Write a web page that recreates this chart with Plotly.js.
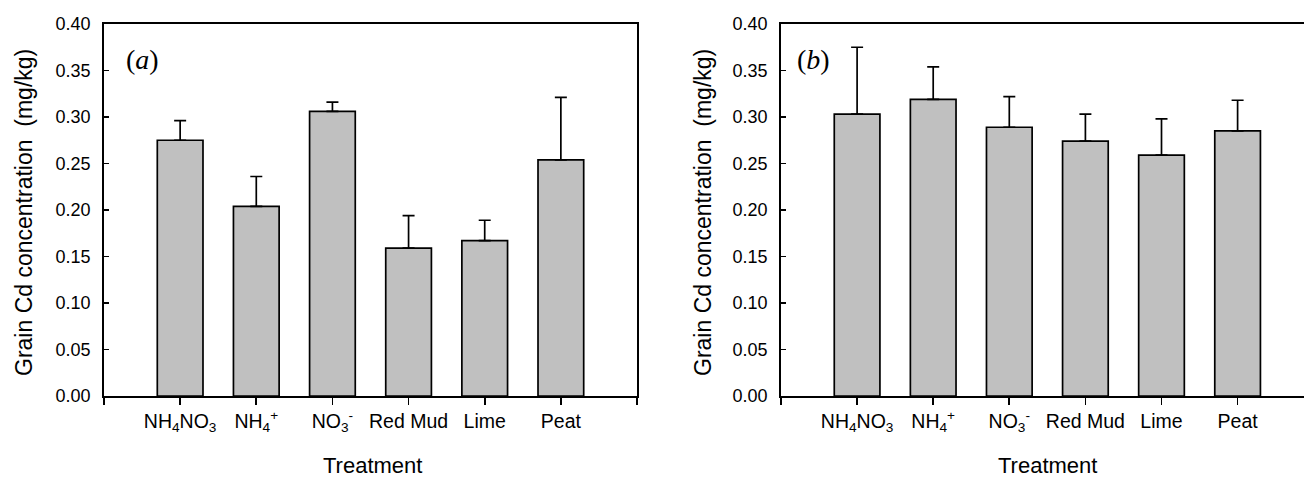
<!DOCTYPE html>
<html>
<head>
<meta charset="utf-8">
<script src="https://cdn.plot.ly/plotly-3.0.1.min.js"></script>
<style>html,body{margin:0;padding:0;background:#fff;}#chart{width:1304px;height:478px;}</style>
</head>
<body>
<div id="chart"></div>
<script>
// Data
var categories = ["NH<sub>4</sub>NO<sub>3</sub>", "NH<sub>4</sub><sup>+</sup>", "NO<sub>3</sub><sup>-</sup>", "Red Mud", "Lime", "Peat"];
var meanA = [0.275, 0.204, 0.306, 0.159, 0.167, 0.254];
var sdA   = [0.021, 0.032, 0.010, 0.035, 0.022, 0.067];
var meanB = [0.303, 0.319, 0.289, 0.274, 0.259, 0.285];
var sdB   = [0.072, 0.035, 0.033, 0.029, 0.039, 0.033];
var yTitle = "Grain Cd concentration  (mg/kg)";
var xTitle = "Treatment";
var panelLabels = ["(<i>a</i>)", "(<i>b</i>)"];

var pos = categories.map(function (c, i) { return i; });
var zeros = categories.map(function () { return 0; });

function barTrace(vals, sds, xa, ya) {
  return {
    type: "bar", x: pos, y: vals, xaxis: xa, yaxis: ya, width: 0.6,
    marker: { color: "#c0c0c0", line: { color: "#000", width: 1.7 } },
    error_y: { type: "data", symmetric: false, array: sds, arrayminus: zeros,
               color: "#000", thickness: 1.7, width: 6 },
    hoverinfo: "x+y", showlegend: false
  };
}

var W = 1304, H = 478;
var font = "Liberation Sans, Arial, Helvetica, sans-serif";

function xAxis(dom, rng) {
  return {
    domain: dom, range: rng, tickmode: "array", tickvals: pos, ticktext: categories,
    ticks: "outside", ticklen: 7, tickwidth: 1.6, tickcolor: "#000",
    minor: { tick0: -1, dtick: 1, ticks: "outside", ticklen: 7, tickwidth: 1.6, tickcolor: "#000", showgrid: false },
    showline: true, linecolor: "#000", linewidth: 1.8, mirror: true,
    showgrid: false, zeroline: false, fixedrange: true,
    tickfont: { family: font, size: 19.5, color: "#000" }, ticklabelstandoff: 0
  };
}
function yAxis(dom, mirror, anchor) {
  return {
    domain: dom, range: [0, 0.4], dtick: 0.05, tick0: 0, tickformat: ".2f",
    ticks: "inside", ticklen: 5, tickwidth: 1.6, tickcolor: "#000",
    showline: true, linecolor: "#000", linewidth: 1.8, mirror: mirror, anchor: anchor,
    showgrid: false, zeroline: false, fixedrange: true,
    tickfont: { family: font, size: 18, color: "#000" }, ticklabelstandoff: 8
  };
}

var yDom = [1 - 396 / H, 1 - 24 / H];
var serif = "Liberation Serif, Times New Roman, serif";
var layout = {
  width: W, height: H, margin: { l: 0, r: 0, t: 0, b: 0 },
  paper_bgcolor: "#fff", plot_bgcolor: "#fff", bargap: 0.4,
  xaxis: xAxis([104 / W, 637 / W], [-1, 6]),
  yaxis: yAxis(yDom, true, "x"),
  xaxis2: Object.assign(xAxis([781 / W, 1], [-1, -1 + 523 / 76.1]), { anchor: "y2" }),
  yaxis2: yAxis(yDom, false, "x2"),
  annotations: [
    { text: panelLabels[0], xref: "paper", yref: "paper", x: 124 / W, y: 1 - 59 / H, xanchor: "left", yanchor: "middle", showarrow: false,
      font: { family: serif, size: 28, color: "#000" } },
    { text: panelLabels[1], xref: "paper", yref: "paper", x: 795 / W, y: 1 - 59 / H, xanchor: "left", yanchor: "middle", showarrow: false,
      font: { family: serif, size: 28, color: "#000" } },
    { text: yTitle, xref: "paper", yref: "paper", x: 24 / W, y: 1 - 213 / H, xanchor: "center", yanchor: "middle", textangle: -90, showarrow: false,
      font: { family: font, size: 23, color: "#000" } },
    { text: yTitle, xref: "paper", yref: "paper", x: 703 / W, y: 1 - 213 / H, xanchor: "center", yanchor: "middle", textangle: -90, showarrow: false,
      font: { family: font, size: 23, color: "#000" } },
    { text: xTitle, xref: "paper", yref: "paper", x: 372 / W, y: 1 - 465 / H, xanchor: "center", yanchor: "middle", showarrow: false,
      font: { family: font, size: 22, color: "#000" } },
    { text: xTitle, xref: "paper", yref: "paper", x: 1047 / W, y: 1 - 465 / H, xanchor: "center", yanchor: "middle", showarrow: false,
      font: { family: font, size: 22, color: "#000" } }
  ]
};

Plotly.newPlot("chart", [barTrace(meanA, sdA, "x", "y"), barTrace(meanB, sdB, "x2", "y2")], layout,
  { displayModeBar: false, staticPlot: true });
</script>
</body>
</html>
